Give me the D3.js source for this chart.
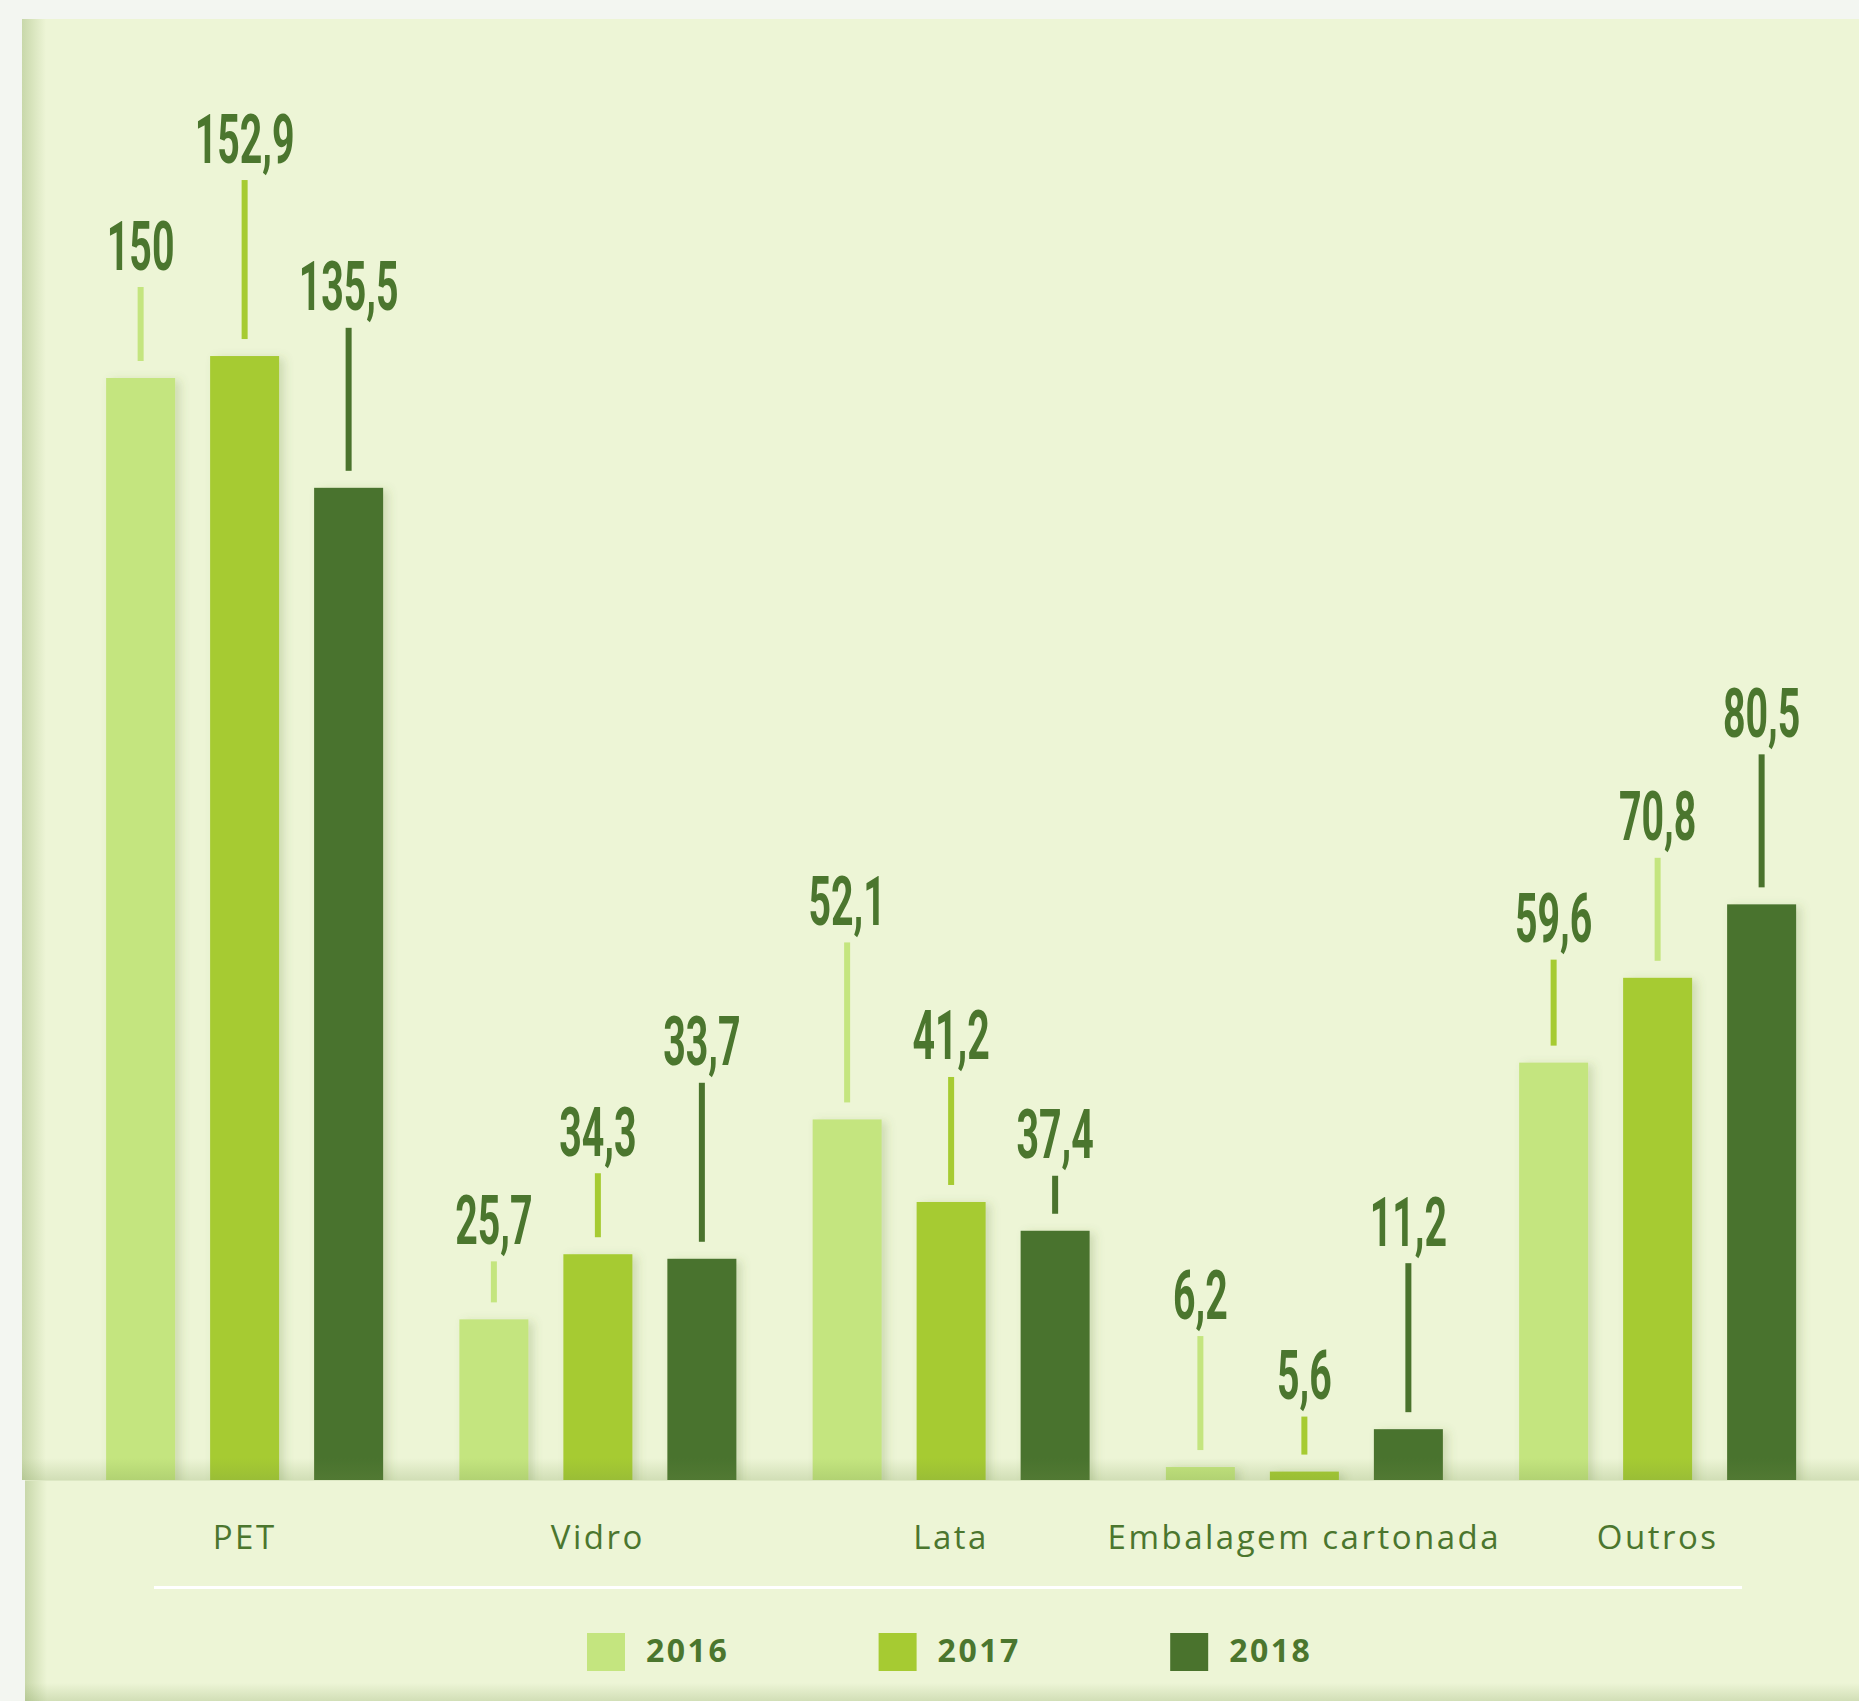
<!DOCTYPE html>
<html>
<head>
<meta charset="utf-8">
<script src="https://cdn.jsdelivr.net/npm/d3@7"></script>
<style>
  html, body { margin: 0; padding: 0; background: #f3f6f1; }
  svg { display: block; }
</style>
</head>
<body>
<svg id="chart" width="1859" height="1701"></svg>
<script>
// Packaging categories and yearly values
const categories = ["PET", "Vidro", "Lata", "Embalagem cartonada", "Outros"];
const years = ["2016", "2017", "2018"];
const values2016 = [150, 25.7, 52.1, 6.2, 59.6];
const values2017 = [152.9, 34.3, 41.2, 5.6, 70.8];
const values2018 = [135.5, 33.7, 37.4, 11.2, 80.5];
const seriesValues = [values2016, values2017, values2018];

// Annotation layout: leader-line length (px) per category / year
const leaderLength = [
  [74, 159, 143],
  [41, 64, 159],
  [160, 108, 38],
  [114, 38, 149],
  [86, 103, 133]
];
// Leader colour follows the series colour; the last group swaps the first two
const leaderColorIndex = [
  [0, 1, 2], [0, 1, 2], [0, 1, 2], [0, 1, 2], [1, 0, 2]
];

const colors = ["#c4e57f", "#a6cb32", "#4a732d"];
const textColor = "#4b762e";
const panelColor = "#edf5d6";

const W = 1859, H = 1701;
const svg = d3.select("#chart");
const defs = svg.append("defs");

// shading gradients
const leftShade = defs.append("linearGradient").attr("id", "leftShade")
  .attr("x1", 0).attr("x2", 1).attr("y1", 0).attr("y2", 0);
leftShade.append("stop").attr("offset", 0).attr("stop-color", "#9bb474").attr("stop-opacity", 0.45);
leftShade.append("stop").attr("offset", 1).attr("stop-color", "#9bb474").attr("stop-opacity", 0);

const bottomShade = defs.append("linearGradient").attr("id", "bottomShade")
  .attr("x1", 0).attr("x2", 0).attr("y1", 0).attr("y2", 1);
bottomShade.append("stop").attr("offset", 0).attr("stop-color", "#6f8f45").attr("stop-opacity", 0);
bottomShade.append("stop").attr("offset", 1).attr("stop-color", "#6f8f45").attr("stop-opacity", 0.22);

const barShadow = defs.append("filter").attr("id", "barShadow")
  .attr("x", "-30%").attr("y", "-10%").attr("width", "160%").attr("height", "120%");
barShadow.append("feDropShadow")
  .attr("dx", 5).attr("dy", 2).attr("stdDeviation", 5)
  .attr("flood-color", "#5c7a35").attr("flood-opacity", 0.22);

// background
svg.append("rect").attr("width", W).attr("height", H).attr("fill", "#f3f6f1");

const panelTop = 19, panelLeft = 22, baseY = 1480;

// upper panel
svg.append("rect").attr("x", panelLeft).attr("y", panelTop)
  .attr("width", W - panelLeft).attr("height", baseY - panelTop).attr("fill", panelColor);
svg.append("rect").attr("x", panelLeft).attr("y", panelTop)
  .attr("width", 24).attr("height", baseY - panelTop).attr("fill", "url(#leftShade)");

// scales
const x0 = d3.scaleBand().domain(categories).range([68, 1834.25]).paddingInner(0);
const x1 = d3.scaleBand().domain(years).range([0, x0.bandwidth()])
  .paddingInner(0.3365).paddingOuter(0.3666);
const y = d3.scaleLinear().domain([0, 150]).range([1514, 378]);

const fmt = d3.formatLocale({ decimal: ",", thousands: ".", grouping: [3], currency: ["", ""] }).format(".1~f");

const rows = [];
categories.forEach((c, i) => {
  years.forEach((yr, j) => {
    rows.push({ cat: c, ci: i, year: yr, yi: j, value: seriesValues[j][i] });
  });
});

// bars
svg.append("g").attr("filter", "url(#barShadow)")
  .selectAll("rect").data(rows).join("rect")
  .attr("x", d => x0(d.cat) + x1(d.year))
  .attr("y", d => y(d.value))
  .attr("width", x1.bandwidth())
  .attr("height", d => y(0) - y(d.value))
  .attr("fill", d => colors[d.yi]);

// soft shade along the base of the upper panel
svg.append("rect").attr("x", panelLeft).attr("y", baseY - 22)
  .attr("width", W - panelLeft).attr("height", 22).attr("fill", "url(#bottomShade)");

// lower panel (category labels + legend)
svg.append("rect").attr("x", panelLeft + 3).attr("y", baseY)
  .attr("width", W - panelLeft - 3).attr("height", H - baseY).attr("fill", panelColor);
svg.append("rect").attr("x", panelLeft + 3).attr("y", baseY)
  .attr("width", 22).attr("height", H - baseY).attr("fill", "url(#leftShade)");
svg.append("rect").attr("x", panelLeft + 3).attr("y", H - 18)
  .attr("width", W - panelLeft - 3).attr("height", 18).attr("fill", "url(#bottomShade)");
svg.append("line").attr("x1", panelLeft + 3).attr("x2", W)
  .attr("y1", baseY + 0.5).attr("y2", baseY + 0.5)
  .attr("stroke", "#dde8c4").attr("stroke-width", 1);

// leader lines and value labels
const cx = d => x0(d.cat) + x1(d.year) + x1.bandwidth() / 2;
const leaderBottom = d => y(d.value) - 17;
const leaderTop = d => leaderBottom(d) - leaderLength[d.ci][d.yi];

svg.append("g").selectAll("rect").data(rows).join("rect")
  .attr("x", d => cx(d) - 3)
  .attr("y", d => leaderTop(d))
  .attr("width", 6)
  .attr("height", d => leaderLength[d.ci][d.yi])
  .attr("fill", d => colors[leaderColorIndex[d.ci][d.yi]]);

svg.append("g").selectAll("text").data(rows).join("text")
  .attr("transform", d => `translate(${cx(d)},${leaderTop(d) - 17.5}) scale(0.57,1)`)
  .attr("text-anchor", "middle")
  .attr("font-family", "Roboto, 'DejaVu Sans', sans-serif")
  .attr("font-weight", 700)
  .attr("font-size", 69)
  .attr("fill", textColor)
  .text(d => fmt(d.value));

// category labels
svg.append("g").selectAll("text").data(categories).join("text")
  .attr("x", d => x0(d) + x0.bandwidth() / 2)
  .attr("y", 1549)
  .attr("text-anchor", "middle")
  .attr("font-family", "'Open Sans', sans-serif")
  .attr("font-size", 33)
  .attr("letter-spacing", 2.5)
  .attr("fill", textColor)
  .text(d => d);

// separator
svg.append("rect").attr("x", 154).attr("y", 1586)
  .attr("width", 1588).attr("height", 3).attr("fill", "#ffffff");

// legend
const legendStep = 291.6, legendX = 587;
const legend = svg.append("g").selectAll("g").data(years).join("g")
  .attr("transform", (d, i) => `translate(${legendX + i * legendStep},1633)`);
legend.append("rect").attr("width", 38).attr("height", 38)
  .attr("fill", (d, i) => colors[i]);
legend.append("text").attr("x", 59).attr("y", 28.7)
  .attr("font-family", "'Open Sans', sans-serif")
  .attr("font-weight", 700)
  .attr("font-size", 32)
  .attr("letter-spacing", 2.5)
  .attr("fill", textColor)
  .text(d => d);
</script>
</body>
</html>
